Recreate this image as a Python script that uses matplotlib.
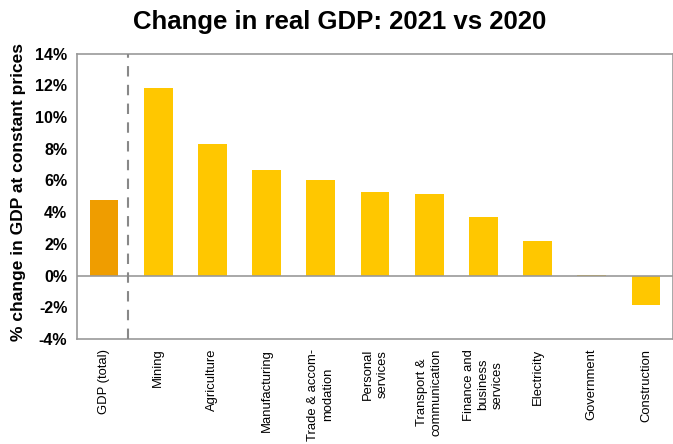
import matplotlib
matplotlib.use("Agg")
import matplotlib.pyplot as plt
from matplotlib.ticker import FuncFormatter

plt.rcParams['font.family'] = ['Liberation Sans', 'DejaVu Sans']

categories = ["GDP (total)", "Mining", "Agriculture", "Manufacturing",
              "Trade & accom-\nmodation", "Personal\nservices",
              "Transport &\ncommunication", "Finance and\nbusiness\nservices",
              "Electricity", "Government", "Construction"]
values = [4.76, 11.84, 8.31, 6.65, 6.02, 5.28, 5.14, 3.71, 2.18, 0.05, -1.86]
colors = ["#EF9D00"] + ["#FFC700"] * 10
yticks = [-4, -2, 0, 2, 4, 6, 8, 10, 12, 14]

fig = plt.figure(figsize=(6.73, 4.44), dpi=100)
ax = fig.add_axes([0.1144, 0.2365, 0.8856, 0.643])

x = list(range(len(categories)))
ax.bar(x, values, width=0.53, color=colors, zorder=2)
ax.axhline(0, color="#999999", lw=1.2, zorder=3)
ax.axvline(0.45, color="#888888", lw=1.5, ls=(0, (5, 4)), zorder=3)

ax.set_xlim(-0.5, 10.5)
ax.set_ylim(-4, 14)
ax.set_yticks(yticks)
ax.yaxis.set_major_formatter(FuncFormatter(lambda v, p: f"{v:.0f}%"))
ax.set_xticks(x)
ax.set_xticklabels(categories, rotation=90, fontsize=9.4, ha="center", va="top",
                   multialignment="center", linespacing=1.3)
for lab in ax.get_yticklabels():
    lab.set_fontweight("bold")
    lab.set_fontsize(11.5)
ax.tick_params(axis="both", length=0)
ax.tick_params(axis="x", pad=7)
ax.tick_params(axis="y", pad=7)
for s in ax.spines.values():
    s.set_color("#999999")
    s.set_linewidth(1.2)

ax.set_ylabel("% change in GDP at constant prices", fontsize=12.5, fontweight="bold")
ax.yaxis.set_label_coords(-0.085, 0.515)
fig.text(0.505, 0.95, "Change in real GDP: 2021 vs 2020", fontsize=18.5, fontweight="bold",
         ha="center", va="center")

fig.savefig("out.png", dpi=100)
